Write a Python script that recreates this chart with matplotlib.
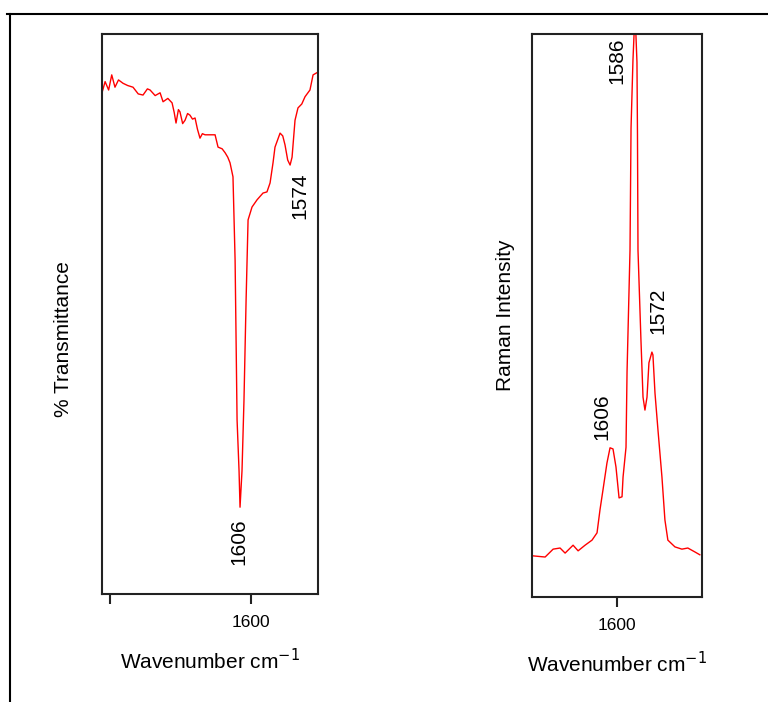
import matplotlib
matplotlib.use("Agg")
import matplotlib.pyplot as plt
from matplotlib.lines import Line2D

plt.rcParams["font.family"] = ["Liberation Sans", "DejaVu Sans"]

# IR spectrum (wavenumber cm-1, % transmittance)
ir_wavenumber = [1705.7, 1703.5, 1701.0, 1698.8, 1696.5, 1694.0, 1690.8, 1687.5, 1683.7,
                 1680.0, 1676.6, 1673.5, 1671.6, 1668.0, 1664.5, 1662.4, 1659.0, 1656.0,
                 1654.5, 1653.2, 1651.5, 1650.4, 1648.5, 1646.8, 1645.0, 1643.3, 1641.5,
                 1639.7, 1638.0, 1636.2, 1634.5, 1632.6, 1629.0, 1625.5, 1623.4, 1620.5,
                 1618.4, 1616.5, 1614.9, 1612.8, 1611.3, 1609.9, 1608.5, 1607.8, 1606.4,
                 1605.0, 1603.5, 1602.1, 1599.3, 1595.7, 1591.5, 1588.7, 1586.5, 1584.4,
                 1583.0, 1579.4, 1577.5, 1575.9, 1574.0, 1572.3, 1570.9, 1568.8, 1566.7,
                 1564.0, 1561.7, 1558.2, 1556.0, 1552.5]
ir_transmittance = [89.5, 91.5, 90.0, 92.7, 90.5, 91.8, 91.2, 90.8, 90.5,
                    89.3, 89.1, 90.2, 90.0, 89.0, 89.5, 87.9, 88.5, 87.7,
                    86.0, 84.1, 86.5, 86.1, 84.0, 84.6, 85.8, 85.5, 84.8,
                    85.0, 83.0, 81.4, 82.2, 82.0, 82.0, 82.0, 79.8, 79.5,
                    78.8, 78.0, 77.0, 74.5, 59.6, 31.1, 22.0, 15.5, 22.0,
                    34.6, 52.5, 66.8, 69.1, 70.4, 71.6, 71.8, 73.4, 77.0,
                    79.8, 82.3, 81.8, 80.2, 77.5, 76.6, 78.0, 84.6, 86.8,
                    87.5, 88.8, 90.0, 92.7, 93.2]

# Raman spectrum (wavenumber cm-1, intensity)
raman_wavenumber = [1664.9, 1655.8, 1649.6, 1644.2, 1640.3, 1634.1, 1630.2, 1624.8, 1619.4,
                    1615.5, 1613.2, 1610.9, 1607.8, 1605.4, 1603.1, 1600.8, 1598.4, 1596.1,
                    1595.3, 1593.0, 1592.2, 1589.9, 1589.1, 1587.6, 1586.0, 1584.5, 1584.1,
                    1583.7, 1581.4, 1579.8, 1578.3, 1576.7, 1575.2, 1572.9, 1572.1, 1570.5,
                    1568.2, 1565.1, 1562.8, 1560.5, 1555.0, 1549.6, 1545.0, 1539.5, 1535.7]
raman_intensity = [7.3, 7.1, 8.5, 8.7, 7.8, 9.2, 8.2, 9.2, 10.1,
                   11.4, 15.5, 19.0, 23.8, 26.5, 26.3, 23.1, 17.6, 17.8,
                   21.3, 26.6, 40.0, 61.6, 83.3, 95.4, 104.0, 95.0, 82.1,
                   61.6, 45.6, 35.5, 33.2, 35.5, 41.6, 43.5, 43.0, 36.2,
                   29.7, 21.3, 13.7, 10.1, 8.9, 8.5, 8.7, 8.0, 7.5]

ir_ticks = [1700, 1600]
ir_ticklabels = ["", "1600"]
raman_ticks = [1600]
raman_ticklabels = ["1600"]

ir_peaks = ["1606", "1574"]
raman_peaks = ["1586", "1572", "1606"]

fig = plt.figure(figsize=(7.68, 7.02), dpi=100)

ax1 = fig.add_axes([102 / 768, 1 - 594 / 702, 216 / 768, 560 / 702])
ax2 = fig.add_axes([532 / 768, 1 - 597 / 702, 170 / 768, 563 / 702])

ax1.plot(ir_wavenumber, ir_transmittance, color="red", linewidth=1.0)
ax1.set_xlim(1705.7, 1552.5)
ax1.set_ylim(0, 100)
ax1.set_xticks(ir_ticks)
ax1.set_xticklabels(ir_ticklabels)

ax2.plot(raman_wavenumber, raman_intensity, color="red", linewidth=1.0)
ax2.set_xlim(1666, 1534)
ax2.set_ylim(0, 100)
ax2.set_xticks(raman_ticks)
ax2.set_xticklabels(raman_ticklabels)

for ax in (ax1, ax2):
    ax.set_yticks([])
    for s in ax.spines.values():
        s.set_linewidth(1.5)
        s.set_color("#222222")
    ax.tick_params(axis="x", direction="out", length=7, width=1.5,
                   color="#222222", labelsize=12.5, pad=8)
    ax.set_xlabel("Wavenumber cm$^{-1}$", fontsize=15, labelpad=13)

ax1.set_ylabel("% Transmittance", fontsize=15)
ax1.yaxis.set_label_coords(-0.134, 0.455)
ax2.set_ylabel("Raman Intensity", fontsize=15)
ax2.yaxis.set_label_coords(-0.10, 0.50)

# peak labels
ax1.text(1608.5, 9.3, ir_peaks[0], rotation=90, ha="center", va="center", fontsize=15)
ax1.text(1565.2, 71.1, ir_peaks[1], rotation=90, ha="center", va="center", fontsize=15)
ax2.text(1600.0, 95.2, raman_peaks[0], rotation=90, ha="center", va="center", fontsize=15)
ax2.text(1568.2, 50.8, raman_peaks[1], rotation=90, ha="center", va="center", fontsize=15)
ax2.text(1611.6, 32.1, raman_peaks[2], rotation=90, ha="center", va="center", fontsize=15)

# outer frame (top and left edges)
fig.add_artist(Line2D([7 / 768, 1], [1 - 13.5 / 702, 1 - 13.5 / 702],
                      transform=fig.transFigure, color="black", linewidth=1.5))
fig.add_artist(Line2D([10 / 768, 10 / 768], [1 - 13.5 / 702, 0],
                      transform=fig.transFigure, color="black", linewidth=1.5))

fig.savefig("out.png", dpi=100)
